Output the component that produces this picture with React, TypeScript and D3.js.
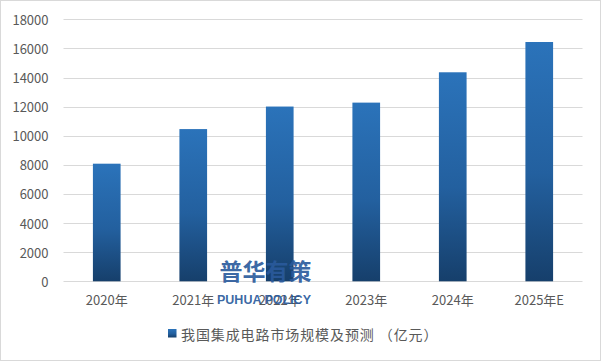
import React from "react";
import * as d3 from "d3";

const categories = ["2020年", "2021年", "2022年", "2023年", "2024年", "2025年E"];
const values = [8080, 10458, 12006, 12276, 14360, 16440];
const yTicks = [0, 2000, 4000, 6000, 8000, 10000, 12000, 14000, 16000, 18000];
const legendLabel = "我国集成电路市场规模及预测 （亿元）";

const W = 601;
const H = 361;
const margin = { left: 63.5, right: 18.5, top: 19.3, bottom: 79.7 };
const FONT = "'Noto Sans CJK SC', 'Liberation Sans', sans-serif";

export default function App() {
  const x = d3
    .scaleBand<string>()
    .domain(categories)
    .range([margin.left, W - margin.right])
    .paddingInner(0.68)
    .paddingOuter(0.34);
  const y = d3.scaleLinear().domain([0, 18000]).range([H - margin.bottom, margin.top]);

  return (
    <svg
      width={W}
      height={H}
      style={{ position: "absolute", left: 0, top: 0, display: "block", background: "#fff" }}
      fontFamily={FONT}
    >
      <defs>
        <linearGradient id="barGrad" x1="0" y1="0" x2="0" y2="1">
          <stop offset="0%" stopColor="#2B73BA" />
          <stop offset="55%" stopColor="#23609F" />
          <stop offset="100%" stopColor="#163F6B" />
        </linearGradient>
      </defs>
      <rect x={0.5} y={0.5} width={W - 1} height={H - 1} fill="#fff" stroke="#d9d9d9" />
      {yTicks.map((t) => (
        <g key={t}>
          <line
            x1={margin.left}
            x2={W - margin.right}
            y1={Math.round(y(t)) + 0.5}
            y2={Math.round(y(t)) + 0.5}
            stroke="#d9d9d9"
            strokeWidth={1}
          />
          <text
            x={48.5}
            y={y(t)}
            textAnchor="end"
            dominantBaseline="central"
            fontSize={13}
            fill="#595959"
          >
            {t}
          </text>
        </g>
      ))}
      {categories.map((c, i) => (
        <rect
          key={c}
          x={x(c)}
          y={y(values[i])}
          width={x.bandwidth()}
          height={y(0) - y(values[i])}
          fill="url(#barGrad)"
        />
      ))}
      {categories.map((c) => (
        <text
          key={c}
          x={(x(c) as number) + x.bandwidth() / 2}
          y={305}
          textAnchor="middle"
          fontSize={13}
          fill="#595959"
        >
          {c}
        </text>
      ))}
      <text
        x={265.5}
        y={280}
        textAnchor="middle"
        fontSize={23}
        fontWeight="bold"
        fill="#2a5a9c"
        fillOpacity={0.92}
      >
        普华有策
      </text>
      <text
        x={264}
        y={303.5}
        textAnchor="middle"
        fontSize={12.5}
        fontWeight="bold"
        fill="#2a5a9c"
        fillOpacity={0.92}
        fontFamily="'Liberation Sans', sans-serif"
      >
        PUHUA POLICY
      </text>
      <rect x={168} y={329} width={8.5} height={8.5} fill="url(#barGrad)" />
      <text
        x={181}
        y={334}
        dominantBaseline="central"
        fontSize={14}
        letterSpacing={0.9}
        fill="#595959"
      >
        {legendLabel}
      </text>
    </svg>
  );
}
